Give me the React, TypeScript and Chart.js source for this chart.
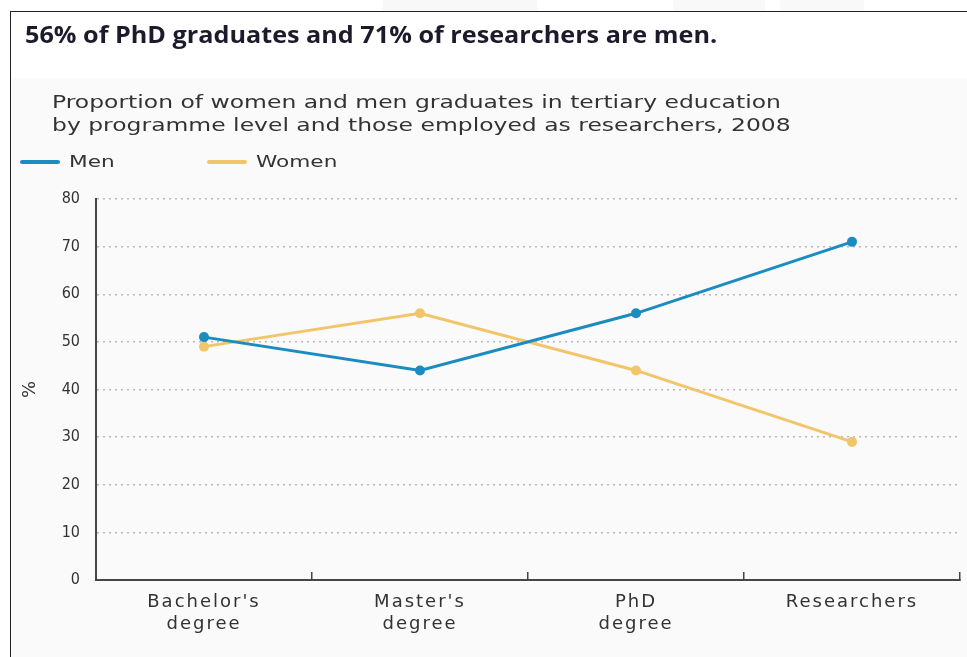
import React, { useEffect, useRef } from "react";
import { Chart, registerables } from "chart.js";

Chart.register(...registerables);

// Programme levels shown along the horizontal axis
const categories: string[][] = [
  ["Bachelor's", "degree"],
  ["Master's", "degree"],
  ["PhD", "degree"],
  ["Researchers"],
];

// Share of graduates / researchers by sex, 2008 (%)
const menShare = [51, 44, 56, 71];
const womenShare = [49, 56, 44, 29];

// Vertical axis range and tick step (%)
const yMin = 0;
const yMax = 80;
const yStep = 10;

const seriesNames = ["Men", "Women"];

const BLUE = "#1a8cc0";
const YELLOW = "#f2c56b";
const AXIS = "#454545";
const TEXT = "#333333";

// Draws the category labels with a little extra tracking
const wideLabels = {
  id: "wideLabels",
  afterLayout(chart: any) {
    const scale = chart.scales.x;
    if (!scale || scale.__wide) return;
    const orig = scale.drawLabels.bind(scale);
    scale.drawLabels = (area: any) => {
      const ctx = chart.ctx;
      ctx.save();
      (ctx as any).letterSpacing = "2px";
      orig(area);
      ctx.restore();
    };
    scale.__wide = true;
  },
};

export default function App() {
  const canvasRef = useRef<HTMLCanvasElement | null>(null);

  useEffect(() => {
    if (!canvasRef.current) return;
    const chart = new Chart(canvasRef.current, {
      type: "line",
      data: {
        labels: categories,
        datasets: [
          {
            label: seriesNames[0],
            data: menShare,
            borderColor: BLUE,
            backgroundColor: BLUE,
            borderWidth: 3,
            pointRadius: 5,
            pointBorderWidth: 0,
            pointBackgroundColor: BLUE,
            tension: 0,
          },
          {
            label: seriesNames[1],
            data: womenShare,
            borderColor: YELLOW,
            backgroundColor: YELLOW,
            borderWidth: 3,
            pointRadius: 5,
            pointBorderWidth: 0,
            pointBackgroundColor: YELLOW,
            tension: 0,
          },
        ],
      },
      options: {
        animation: false,
        responsive: false,
        maintainAspectRatio: false,
        layout: { padding: { left: 0, top: 199, right: 7, bottom: 0 } },
        plugins: {
          legend: { display: false },
          title: { display: false },
          tooltip: { enabled: false },
        },
        scales: {
          x: {
            type: "category",
            offset: true,
            grid: {
              offset: true,
              drawOnChartArea: false,
              drawTicks: true,
              tickLength: -8,
              color: AXIS,
              lineWidth: 1.5,
            },
            border: { display: true, color: AXIS, width: 2 },
            ticks: {
              padding: 19,
              color: TEXT,
              maxRotation: 0,
              autoSkip: false,
              font: { family: "'DejaVu Sans'", size: 18, lineHeight: 1.22 },
            },
            afterFit: (s: any) => {
              s.height = 77;
            },
          },
          y: {
            min: yMin,
            max: yMax,
            ticks: {
              stepSize: yStep,
              padding: 16,
              color: TEXT,
              font: { family: "'DejaVu Sans Condensed', 'DejaVu Sans'", size: 16 },
            },
            grid: {
              drawTicks: false,
              color: (ctx: any) => (ctx.tick && ctx.tick.value === 0 ? "rgba(0,0,0,0)" : "#b8b8b8"),
              lineWidth: 1.5,
            },
            border: { display: true, color: AXIS, width: 2, dash: [2, 4] },
            title: {
              display: true,
              text: "%",
              color: TEXT,
              font: { family: "'DejaVu Sans'", size: 18 },
              padding: { top: 20, bottom: 0 },
            },
            afterFit: (s: any) => {
              s.width = 96;
            },
          },
        },
      },
      plugins: [wideLabels],
    });
    return () => chart.destroy();
  }, []);

  const legendText: React.CSSProperties = {
    position: "absolute",
    top: 152,
    fontFamily: "'DejaVu Sans'",
    fontSize: 16,
    lineHeight: "20px",
    color: TEXT,
    transform: "scaleX(1.35)",
    transformOrigin: "left center",
    whiteSpace: "nowrap",
  };

  return (
    <div style={{ position: "absolute", left: 0, top: 0, width: 967, height: 657, background: "#ffffff", overflow: "hidden" }}>
      {/* faint backdrop shapes above the frame */}
      <div style={{ position: "absolute", left: 383, top: 0, width: 154, height: 11, background: "#f8f8f8" }} />
      <div style={{ position: "absolute", left: 673, top: 0, width: 92, height: 11, background: "#f9f9f9" }} />
      <div style={{ position: "absolute", left: 780, top: 0, width: 84, height: 11, background: "#f9f9f9" }} />

      {/* framed panel */}
      <div style={{ position: "absolute", left: 11, top: 78, right: 0, bottom: 0, background: "#fafafa" }} />
      <div style={{ position: "absolute", left: 10, top: 11, right: 0, height: 0, borderTop: "1.5px solid #222" }} />
      <div style={{ position: "absolute", left: 10, top: 11, bottom: 0, width: 0, borderLeft: "1.5px solid #222" }} />

      <canvas ref={canvasRef} width={967} height={657} style={{ position: "absolute", left: 0, top: 0 }} />

      <div
        style={{
          position: "absolute",
          left: 25,
          top: 18,
          fontFamily: "'Open Sans'",
          fontWeight: 700,
          fontSize: 24,
          lineHeight: "32px",
          color: "#1b1b2c",
          whiteSpace: "nowrap",
          transform: "scaleX(1.05)",
          transformOrigin: "left top",
        }}
      >
        56% of PhD graduates and 71% of researchers are men.
      </div>

      <div
        style={{
          position: "absolute",
          left: 52,
          top: 91,
          fontFamily: "'DejaVu Sans'",
          fontSize: 17,
          lineHeight: "23px",
          color: TEXT,
          whiteSpace: "nowrap",
          transform: "scaleX(1.38)",
          transformOrigin: "left top",
        }}
      >
        <div>Proportion of women and men graduates in tertiary education</div>
        <div>by programme level and those employed as researchers, 2008</div>
      </div>

      {/* series key */}
      <div style={{ position: "absolute", left: 20, top: 160, width: 40, height: 4, borderRadius: 2, background: BLUE }} />
      <div style={{ ...legendText, left: 69 }}>{seriesNames[0]}</div>
      <div style={{ position: "absolute", left: 207, top: 160, width: 40, height: 4, borderRadius: 2, background: YELLOW }} />
      <div style={{ ...legendText, left: 256 }}>{seriesNames[1]}</div>
    </div>
  );
}
